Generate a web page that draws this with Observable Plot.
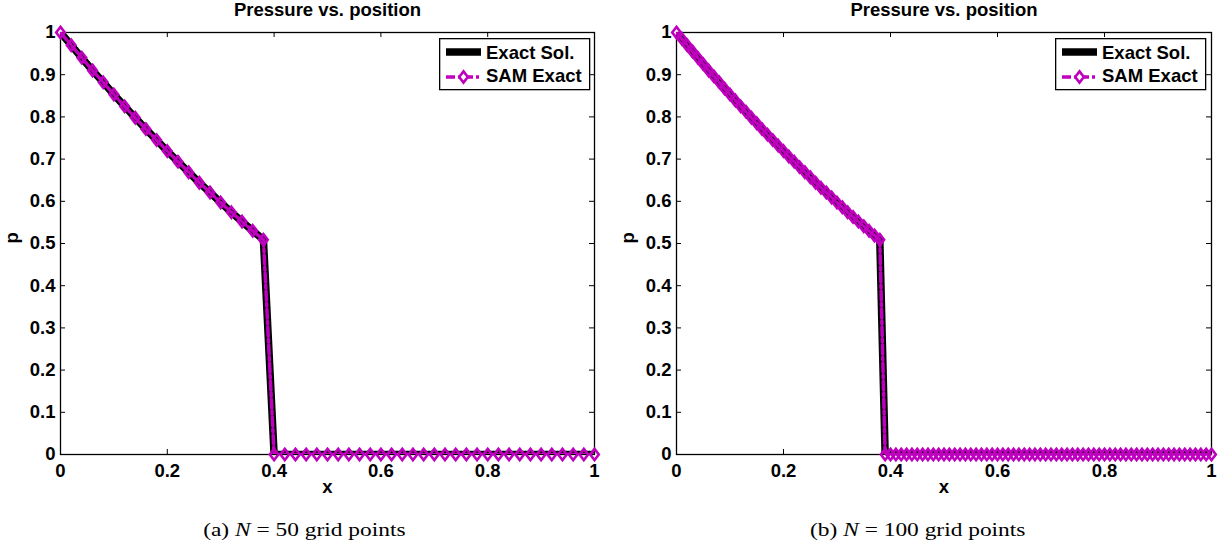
<!DOCTYPE html>
<html>
<head>
<meta charset="utf-8">
<script src="https://cdn.jsdelivr.net/npm/d3@7"></script>
<script src="https://cdn.jsdelivr.net/npm/@observablehq/plot@0.6"></script>
<style>
  html, body { margin: 0; padding: 0; background: white; }
  #page { position: relative; width: 1228px; height: 552px; display: flex; overflow: hidden; }
  .panel { position: relative; width: 614px; height: 552px; }
  .caption { position: absolute; left: -3px; width: 614px; top: 519px; text-align: center; }
  .caption span { display: inline-block; transform: scaleX(1.2); transform-origin: center;
             font-family: "Liberation Serif", "Times New Roman", serif; font-size: 19.5px; color: black; white-space: pre; }
  .legend { position: absolute; top: 38px; }
</style>
</head>
<body>
<div id="page"></div>
<script>
// ---- data ----
const title = "Pressure vs. position";
const xLabel = "x";
const yLabel = "p";
const seriesNames = ["Exact Sol.", "SAM Exact"];
const xTicks = [0, 0.2, 0.4, 0.6, 0.8, 1];
const yTicks = [0, 0.1, 0.2, 0.3, 0.4, 0.5, 0.6, 0.7, 0.8, 0.9, 1];

// N = 50 grid points
const x50 = [0,0.02,0.04,0.06,0.08,0.1,0.12,0.14,0.16,0.18,0.2,0.22,0.24,0.26,0.28,0.3,0.32,0.34,0.36,0.38,
  0.4,0.42,0.44,0.46,0.48,0.5,0.52,0.54,0.56,0.58,0.6,0.62,0.64,0.66,0.68,0.7,0.72,0.74,0.76,0.78,
  0.8,0.82,0.84,0.86,0.88,0.9,0.92,0.94,0.96,0.98,1];
const p50 = [1,0.970,0.940,0.910,0.882,0.853,0.825,0.798,0.771,0.745,0.719,0.694,0.669,0.644,0.621,0.597,0.574,0.552,0.530,0.509,
  0,0,0,0,0,0,0,0,0,0,0,0,0,0,0,0,0,0,0,0,0,0,0,0,0,0,0,0,0,0,0];

// N = 100 grid points
const x100 = [0,0.01,0.02,0.03,0.04,0.05,0.06,0.07,0.08,0.09,0.1,0.11,0.12,0.13,0.14,0.15,0.16,0.17,0.18,0.19,
  0.2,0.21,0.22,0.23,0.24,0.25,0.26,0.27,0.28,0.29,0.3,0.31,0.32,0.33,0.34,0.35,0.36,0.37,0.38,0.39,
  0.4,0.41,0.42,0.43,0.44,0.45,0.46,0.47,0.48,0.49,0.5,0.51,0.52,0.53,0.54,0.55,0.56,0.57,0.58,0.59,
  0.6,0.61,0.62,0.63,0.64,0.65,0.66,0.67,0.68,0.69,0.7,0.71,0.72,0.73,0.74,0.75,0.76,0.77,0.78,0.79,
  0.8,0.81,0.82,0.83,0.84,0.85,0.86,0.87,0.88,0.89,0.9,0.91,0.92,0.93,0.94,0.95,0.96,0.97,0.98,0.99,1];
const p100 = [1,0.985,0.970,0.955,0.940,0.925,0.910,0.896,0.882,0.867,0.853,0.839,0.825,0.812,0.798,0.785,0.771,0.758,0.745,0.732,
  0.719,0.706,0.694,0.681,0.669,0.657,0.644,0.632,0.621,0.609,0.597,0.586,0.574,0.563,0.552,0.541,0.530,0.519,0.509,
  0,0,0,0,0,0,0,0,0,0,0,0,0,0,0,0,0,0,0,0,0,0,0,0,0,0,0,0,0,0,0,0,0,0,0,0,0,0,0,0,0,0,0,0,0,0,0,0,0,0,0,0,0,0,0,0,0,0,0,0,0,0];

const captions = [["(a) ", "N", " = 50 grid points"], ["(b) ", "N", " = 100 grid points"]];

// ---- styling ----
const MAG = "#bf00bf";
const DASH = "9,3,3,3";
const FONT = "'Liberation Sans', Arial, Helvetica, sans-serif";
const FS = 18.5;

const diamond = {
  draw(ctx, size) {
    const r = Math.sqrt(size / Math.PI);
    ctx.moveTo(0, -1.3 * r);
    ctx.lineTo(r, 0);
    ctx.lineTo(0, 1.3 * r);
    ctx.lineTo(-r, 0);
    ctx.closePath();
  }
};

function panel(xs, ps, ml, mr) {
  const W = 614, H = 552, mt = 32, mb = 98;
  const iw = W - ml - mr, ih = H - mt - mb;
  const data = xs.map((x, i) => ({x, p: ps[i]}));
  return Plot.plot({
    width: W, height: H,
    marginTop: mt, marginBottom: mb, marginLeft: ml, marginRight: mr,
    style: {fontFamily: FONT, fontWeight: "bold", fontSize: FS + "px", background: "white", color: "black", overflow: "visible"},
    x: {domain: [0, 1]},
    y: {domain: [0, 1]},
    marks: [
      Plot.axisX({ticks: xTicks, tickSize: 0, tickPadding: 9, label: null, tickFormat: d => String(d), fontSize: FS}),
      Plot.axisY({ticks: yTicks, tickSize: 0, tickPadding: 5, label: null, tickFormat: d => String(d), fontSize: FS}),
      Plot.ruleX(xTicks, {x: d => d, insetTop: ih - 5, stroke: "black", strokeWidth: 1}),
      Plot.ruleX(xTicks, {x: d => d, insetBottom: ih - 5, stroke: "black", strokeWidth: 1}),
      Plot.ruleY(yTicks, {y: d => d, insetRight: iw - 5, stroke: "black", strokeWidth: 1}),
      Plot.ruleY(yTicks, {y: d => d, insetLeft: iw - 5, stroke: "black", strokeWidth: 1}),
      Plot.frame({stroke: "black", strokeWidth: 1.3}),
      Plot.line(data, {x: "x", y: "p", stroke: "black", strokeWidth: 7.5, clip: true}),
      Plot.line(data, {x: "x", y: "p", stroke: MAG, strokeWidth: 3.5, strokeDasharray: DASH, clip: true}),
      Plot.dot(data, {x: "x", y: "p", symbol: diamond, r: 4.3, stroke: MAG, strokeWidth: 2.6, fill: "none"}),
      Plot.text([title], {text: d => d, frameAnchor: "top", dy: -22, lineAnchor: "middle", fontSize: FS, fontWeight: "bold"}),
      Plot.text([xLabel], {text: d => d, frameAnchor: "bottom", dy: 33, lineAnchor: "middle", fontSize: FS, fontWeight: "bold"}),
      Plot.text([yLabel], {text: d => d, frameAnchor: "left", dx: -48, rotate: -90, lineAnchor: "middle", fontSize: FS, fontWeight: "bold"})
    ]
  });
}

function legend(left) {
  const svg = d3.create("svg").attr("class", "legend").attr("width", 152).attr("height", 53)
    .style("left", left + "px").style("font-family", FONT).style("font-weight", "bold").style("font-size", FS + "px");
  svg.append("rect").attr("x", 0.65).attr("y", 0.65).attr("width", 150).attr("height", 51)
    .attr("fill", "white").attr("stroke", "black").attr("stroke-width", 1.3);
  svg.append("line").attr("x1", 7).attr("x2", 42).attr("y1", 14).attr("y2", 14).attr("stroke", "black").attr("stroke-width", 7.5);
  svg.append("text").attr("x", 47).attr("y", 15).attr("dy", "0.35em").text(seriesNames[0]);
  svg.append("line").attr("x1", 7).attr("x2", 42).attr("y1", 39).attr("y2", 39).attr("stroke", MAG).attr("stroke-width", 3.5).attr("stroke-dasharray", DASH);
  svg.append("path").attr("transform", "translate(24.5,39)").attr("d", d3.symbol(diamond, 4.3 * 4.3 * Math.PI)())
    .attr("fill", "white").attr("stroke", MAG).attr("stroke-width", 2.6);
  svg.append("text").attr("x", 47).attr("y", 38).attr("dy", "0.35em").text(seriesNames[1]);
  return svg.node();
}

const page = document.getElementById("page");
const configs = [
  {xs: x50, ps: p50, ml: 60, mr: 20, legendLeft: 439},
  {xs: x100, ps: p100, ml: 62, mr: 17, legendLeft: 441}
];
configs.forEach((c, i) => {
  const div = document.createElement("div");
  div.className = "panel";
  div.appendChild(panel(c.xs, c.ps, c.ml, c.mr));
  div.appendChild(legend(c.legendLeft));
  const cap = document.createElement("div");
  cap.className = "caption";
  const span = document.createElement("span");
  span.append(captions[i][0]);
  const it = document.createElement("i");
  it.textContent = captions[i][1];
  span.append(it);
  span.append(captions[i][2]);
  cap.appendChild(span);
  div.appendChild(cap);
  page.appendChild(div);
});
</script>
</body>
</html>
